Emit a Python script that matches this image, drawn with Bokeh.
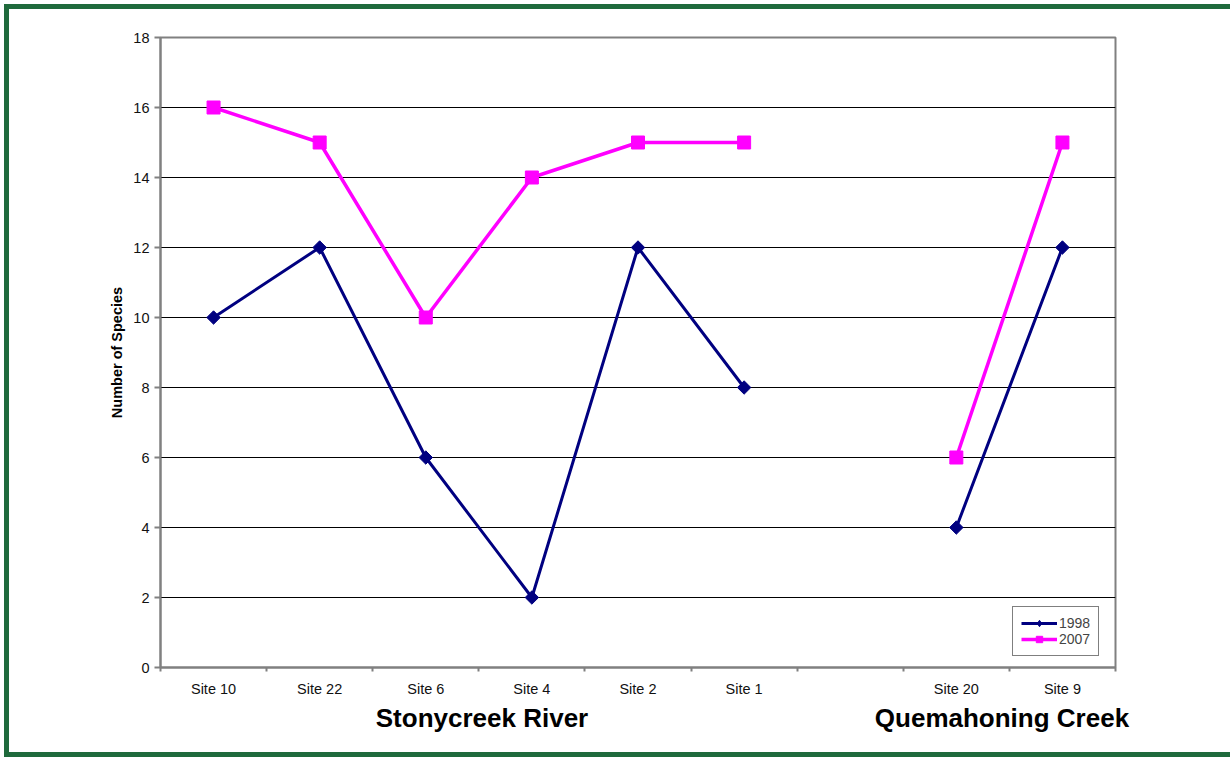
import numpy as np
from bokeh.plotting import figure
from bokeh.models import Range1d, FixedTicker, Legend, LegendItem, LinearAxis
from bokeh.embed import file_html
from bokeh.resources import INLINE

# ---- data ----
sites = ["Site 10", "Site 22", "Site 6", "Site 4", "Site 2", "Site 1", "", "Site 20", "Site 9"]
species_1998 = [10, 12, 6, 2, 12, 8, np.nan, 4, 12]
species_2007 = [16, 15, 10, 14, 15, 15, np.nan, 6, 15]
y_ticks = [0, 2, 4, 6, 8, 10, 12, 14, 16, 18]
groups = ["Stonycreek River", "Quemahoning Creek"]
group_centers = [3.03, 7.93]

FONT = "Liberation Sans"
x = np.arange(len(sites)) + 0.5

p = figure(width=1226, height=753, output_backend="svg", toolbar_location=None,
           x_range=Range1d(0, len(sites)), y_range=Range1d(0, 18),
           min_border_left=151, min_border_right=120, min_border_top=28, min_border_bottom=95,
           background_fill_color="white", border_fill_color="white")
GREEN = "5px solid #1f6a3c"
p.styles = {"border-top": GREEN, "border-left": GREEN, "border-bottom": GREEN,
            "margin-left": "4px", "margin-top": "4px"}

p.outline_line_color = "#808080"
p.outline_line_width = 2

# x axis (site labels at centres, tick marks at boundaries)
ax = p.xaxis[0]
centers = [float(v) for v, s in zip(x, sites) if s]
ax.ticker = FixedTicker(ticks=centers, minor_ticks=list(range(len(sites) + 1)))
ax.major_label_overrides = {float(v): s for v, s in zip(x, sites) if s}
ax.major_tick_line_color = None
ax.minor_tick_line_color = "#808080"
ax.minor_tick_line_width = 2
ax.minor_tick_in = 0
ax.minor_tick_out = 4
ax.axis_line_color = "#808080"
ax.axis_line_width = 2
ax.major_label_text_font = FONT
ax.major_label_text_font_size = "14.5px"
ax.major_label_text_color = "#111111"
ax.major_label_standoff = 7

# group labels axis
ax2 = LinearAxis(ticker=FixedTicker(ticks=group_centers, minor_ticks=[]),
                 major_label_overrides={c: g for c, g in zip(group_centers, groups)},
                 axis_line_color=None, major_tick_line_color=None, minor_tick_line_color=None,
                 major_label_text_font=FONT, major_label_text_font_size="26px",
                 major_label_text_font_style="bold", major_label_text_color="black",
                 major_label_standoff=-3)
p.add_layout(ax2, "below")

# y axis
ay = p.yaxis[0]
ay.ticker = FixedTicker(ticks=y_ticks)
ay.minor_tick_line_color = None
ay.major_tick_line_color = "#808080"
ay.major_tick_line_width = 2
ay.major_tick_in = 0
ay.major_tick_out = 6
ay.axis_line_color = "#808080"
ay.axis_line_width = 2
ay.major_label_text_font = FONT
ay.major_label_text_font_size = "14.5px"
ay.major_label_text_color = "#111111"
ay.major_label_standoff = 5
ay.axis_label = "Number of Species"
ay.axis_label_text_font = FONT
ay.axis_label_text_font_size = "14.5px"
ay.axis_label_text_font_style = "bold"
ay.axis_label_text_color = "black"
ay.axis_label_standoff = 5

p.xgrid.grid_line_color = None
p.ygrid.ticker = FixedTicker(ticks=y_ticks)
p.ygrid.grid_line_color = "black"
p.ygrid.grid_line_width = 1

# series
l1 = p.line(x, species_1998, line_color="#000080", line_width=3)
s1 = p.scatter(x, species_1998, marker="square", size=9.5, angle=np.pi / 4,
               fill_color="#000080", line_color="#000080")
# inner diamond (hidden under rotated square) used as legend glyph
d1 = p.scatter(x, species_1998, marker="diamond", size=11,
               fill_color="#000080", line_color="#000080")
l2 = p.line(x, species_2007, line_color="#FF00FF", line_width=3.5)
s2 = p.scatter(x, species_2007, marker="square", size=13,
               fill_color="#FF00FF", line_color="#FF00FF")
d2 = p.scatter(x, species_2007, marker="square", size=9,
               fill_color="#FF00FF", line_color="#FF00FF")

legend = Legend(items=[LegendItem(label="1998", renderers=[l1, d1]),
                       LegendItem(label="2007", renderers=[l2, d2])],
                location=(852, 11), margin=0, padding=8, spacing=0,
                glyph_width=36, glyph_height=16, label_height=16, label_standoff=2,
                label_text_font=FONT, label_text_font_size="14px",
                border_line_color="black", border_line_width=1,
                background_fill_color="white", background_fill_alpha=1)
p.add_layout(legend, "center")

open("out.html", "w").write(file_html(p, INLINE))
